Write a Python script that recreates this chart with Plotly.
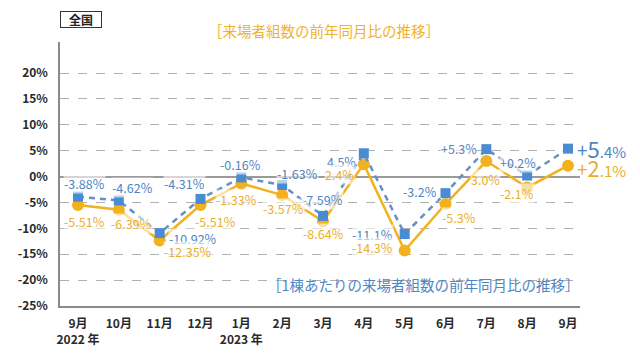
import plotly.graph_objects as go

months = ["9月", "10月", "11月", "12月", "1月", "2月", "3月", "4月", "5月", "6月", "7月", "8月", "9月 "]
tick_text = ["9月<br>2022 年", "10月", "11月", "12月", "1月<br>2023 年", "2月", "3月", "4月",
             "5月", "6月", "7月", "8月", "9月"]
per_building = [-3.88, -4.62, -10.92, -4.31, -0.16, -1.63, -7.59, 4.5, -11.1, -3.2, 5.3, 0.2, 5.4]
per_building_txt = ["-3.88%", "-4.62%", "-10.92%", "-4.31%", "-0.16%", "-1.63%", "-7.59%", "4.5%",
                    "-11.1%", "-3.2%", "+5.3%", "+0.2%", None]
visitors = [-5.51, -6.39, -12.35, -5.51, -1.33, -3.57, -8.64, 2.4, -14.3, -5.3, 3.0, -2.1, 2.1]
visitors_txt = ["-5.51%", "-6.39%", "-12.35%", "-5.51%", "-1.33%", "-3.57%", "-8.64%", "2.4%",
                "-14.3%", "-5.3%", "3.0%", "-2.1%", None]
y_ticks = [20, 15, 10, 5, 0, -5, -10, -15, -20, -25]

BLUE = "#4a8cd3"
BLUE_LINE = "#6590c4"
BLUE_TXT = "#4f84c2"
ORANGE = "#f2b11f"
ORANGE_TXT = "#eaae2c"
FONT = "Noto Sans CJK JP"

# label offsets (pixels) — styling only
blue_off = [(6, 13), (14, 13), (33, -5), (-16, 15), (-1, 13), (15, 12), (-1, 16), (-22, -8),
            (-32, 0), (-26, 2), (-27, 1), (-9, 13), None]
orange_off = [(6, -16), (13, -14), (28, -11), (15, -16), (-5, -16), (1, -13), (0, -12), (-24, -10),
              (-32, 3), (13, -13), (-1, -18), (-10, -6), None]

W, H = 640, 355
L, R, T, B = 60, 60, 42, 49
PW, PH = W - L - R, H - T - B

def paper(xp, yp):
    return (xp - L) / PW, (H - B - yp) / PH

fig = go.Figure()
fig.add_trace(go.Scatter(
    x=months, y=visitors, mode="lines+markers",
    line=dict(color=ORANGE, width=2.5),
    marker=dict(symbol="circle", size=12, color=ORANGE),
    showlegend=False, hoverinfo="skip"))
fig.add_trace(go.Scatter(
    x=months, y=per_building, mode="lines+markers",
    line=dict(color=BLUE_LINE, width=2.5, dash="6px,5px"),
    marker=dict(symbol="square", size=10, color=BLUE),
    showlegend=False, hoverinfo="skip"))

anns = []
for m, v, t, off in zip(months, per_building, per_building_txt, blue_off):
    if t is None:
        continue
    anns.append(dict(x=m, y=v, xref="x", yref="y", text=t, showarrow=False,
                     xanchor="center", yanchor="middle",
                     xshift=off[0], yshift=off[1],
                     font=dict(family=FONT, size=12.5, color=BLUE_TXT),
                     bgcolor="rgba(255,255,255,0.6)", borderpad=0))
for m, v, t, off in zip(months, visitors, visitors_txt, orange_off):
    if t is None:
        continue
    anns.append(dict(x=m, y=v, xref="x", yref="y", text=t, showarrow=False,
                     xanchor="center", yanchor="middle",
                     xshift=off[0], yshift=off[1],
                     font=dict(family=FONT, size=12.5, color=ORANGE_TXT),
                     bgcolor="rgba(255,255,255,0.6)", borderpad=0))

def big_label(v):
    s = f"{v:+.1f}"
    whole, dec = s.split(".")
    return (f"<span style='font-size:19px'>{whole[0]}</span>"
            f"<span style='font-size:22px'>{whole[1:]}</span>"
            f"<span style='font-size:15px'>.{dec}%</span>")

anns.append(dict(x=months[-1], y=per_building[-1], xref="x", yref="y", text=big_label(per_building[-1]),
                 showarrow=False, xanchor="left", yanchor="middle", xshift=7, yshift=1,
                 font=dict(family=FONT, size=15, color=BLUE_TXT)))
anns.append(dict(x=months[-1], y=visitors[-1], xref="x", yref="y", text=big_label(visitors[-1]),
                 showarrow=False, xanchor="left", yanchor="middle", xshift=7, yshift=-1,
                 font=dict(family=FONT, size=15, color=ORANGE_TXT)))

x0, y0 = paper(324, 31)
anns.append(dict(x=x0, y=y0, xref="paper", yref="paper", xanchor="center", yanchor="middle",
                 text="［来場者組数の前年同月比の推移］", showarrow=False,
                 font=dict(family=FONT, size=14.5, color="#f0b22e")))
x1, y1 = paper(582, 284)
anns.append(dict(x=x1, y=y1, xref="paper", yref="paper", xanchor="right", yanchor="middle",
                 text="［1棟あたりの来場者組数の前年同月比の推移］", showarrow=False,
                 font=dict(family=FONT, size=14.5, color="#4f86c6")))
x2, y2 = paper(81, 19.5)
anns.append(dict(x=x2, y=y2, xref="paper", yref="paper", xanchor="center", yanchor="middle",
                 text="<b>全国</b>", showarrow=False, width=38, height=13,
                 font=dict(family=FONT, size=12, color="#222222"),
                 bordercolor="#333333", borderwidth=1, borderpad=1, bgcolor="white"))

fig.update_layout(
    width=W, height=H,
    margin=dict(l=L, r=R, t=T, b=B, autoexpand=False),
    paper_bgcolor="white", plot_bgcolor="white",
    xaxis=dict(type="category", range=[-0.441, 12.294], tickvals=months, ticktext=tick_text,
               showgrid=False, zeroline=False, showline=True, linecolor="#8a8a8a", linewidth=2,
               ticks="outside", ticklen=6, tickcolor="rgba(0,0,0,0)", automargin=False,
               tickfont=dict(family=FONT, size=12, color="#2a2a2a", weight="bold")),
    yaxis=dict(range=[-25, 26], tickvals=y_ticks, ticktext=[f"{t}%" for t in y_ticks],
               showgrid=True, gridcolor="#b0b0b0", gridwidth=1, griddash="dash",
               zeroline=True, zerolinecolor="#9a9a9a", zerolinewidth=1.5,
               showline=True, linecolor="#8a8a8a", linewidth=1.5, automargin=False,
               ticks="outside", ticklen=8, tickcolor="rgba(0,0,0,0)",
               tickfont=dict(family=FONT, size=12, color="#2a2a2a", weight="bold")),
    font=dict(family=FONT),
    annotations=anns,
)

fig.write_html("out.html", config={"displayModeBar": False},
               post_script="document.body.style.margin='0';document.body.style.overflow='hidden';")
